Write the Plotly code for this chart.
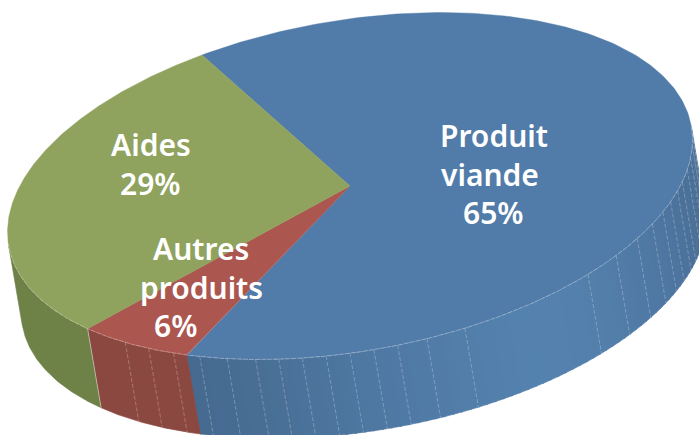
import numpy as np
import plotly.graph_objects as go

# Revenue breakdown, in percent, in clockwise drawing order
categories = ["Produit viande", "Autres produits", "Aides"]
shares = [65, 6, 29]
top_colors = ["#517ba8", "#ab564f", "#8fa25e"]
side_colors = ["#4a7199", "#8b4840", "#6e8248"]

# Projection of the tilted disc onto the page
CENTER = np.array([350.0, 186.0])
AXIS_X = np.array([342.5, -46.0])
AXIS_Y = np.array([0.0, 167.3])
DEPTH = np.array([13.5, 79.0])
START_DEG = -115.6

# Angle at which the rim tangent runs parallel to the extrusion
_turn = np.degrees(np.arctan2(-DEPTH[0] * AXIS_Y[1],
                              AXIS_X[0] * DEPTH[1] + DEPTH[0] * AXIS_X[1]))
SILHOUETTE = (_turn, _turn + 180.0)

# Shading of the blue wall, from the front-left round to the right
blue_wall_deg = [-5, 15, 30, 45, 60, 85, 105, 120]
blue_wall_rgb = [(73, 110, 150), (75, 113, 154), (79, 120, 163), (83, 127, 171),
                 (84, 130, 174), (79, 121, 164), (73, 111, 150), (69, 105, 143)]

# Facet seams on the walls
seam_deg = [-2, 2, 6, 10, 14, 17, 20.6, 24, 28, 33, 39, 46,
            70.4, 77, 82, 86, 90, 94, 98, 102, 106, 111, 116, 121, 126, 131]


def rim(t_deg):
    t = np.radians(np.asarray(t_deg, dtype=float))
    return CENTER[0] + AXIS_X[0] * np.cos(t) + AXIS_Y[0] * np.sin(t), \
        CENTER[1] + AXIS_X[1] * np.cos(t) + AXIS_Y[1] * np.sin(t)


def polygon(x, y, color, name):
    return go.Scatter(x=x, y=y, mode="lines", fill="toself", fillcolor=color,
                      line=dict(color=color, width=0.6), hoverinfo="skip",
                      name=name, showlegend=False)


fig = go.Figure()

edges = START_DEG + np.cumsum([0] + shares) * 3.6
spans = list(zip(edges[:-1], edges[1:]))

# Outer walls, clipped to the side of the rim facing the viewer
for (a, b), name, wall in zip(spans, categories, side_colors):
    for lo, hi in ((a, b), (a - 360, b - 360)):
        lo, hi = max(lo, SILHOUETTE[0]), min(hi, SILHOUETTE[1])
        if hi <= lo:
            continue
        if name == categories[0]:
            cuts = np.arange(lo, hi + 1.5, 1.5)
            cuts = cuts[cuts <= hi]
            cuts = np.r_[cuts, hi]
            for c0, c1 in zip(cuts[:-1], cuts[1:]):
                mid = (c0 + c1) / 2
                rgb = [np.interp(mid, blue_wall_deg, [v[i] for v in blue_wall_rgb]) for i in range(3)]
                color = "rgb(%d,%d,%d)" % tuple(round(v) for v in rgb)
                ts = np.linspace(c0, min(c1 + 0.3, hi), 4)
                xs, ys = rim(ts)
                fig.add_trace(polygon(np.r_[xs, xs[::-1] + DEPTH[0]], np.r_[ys, ys[::-1] + DEPTH[1]], color, name))
        else:
            ts = np.linspace(lo, hi, 80)
            xs, ys = rim(ts)
            fig.add_trace(polygon(np.r_[xs, xs[::-1] + DEPTH[0]], np.r_[ys, ys[::-1] + DEPTH[1]], wall, name))

# Pale dashed seams between wall facets
for t in seam_deg:
    x0, y0 = rim(t)
    fig.add_trace(go.Scatter(x=[x0, x0 + DEPTH[0]], y=[y0, y0 + DEPTH[1]], mode="lines",
                             line=dict(color="rgba(255,255,255,0.32)", width=0.8, dash="4px,2px"),
                             hoverinfo="skip", showlegend=False))

# Seam where the red and green walls meet
x0, y0 = rim(edges[2])
fig.add_trace(go.Scatter(x=[x0, x0 + DEPTH[0]], y=[y0, y0 + DEPTH[1]], mode="lines",
                         line=dict(color="rgba(255,255,255,0.55)", width=0.8),
                         hoverinfo="skip", showlegend=False))

# Top face slices
for (a, b), name, top, share in zip(spans, categories, top_colors, shares):
    ts = np.linspace(a, b, 240)
    xs, ys = rim(ts)
    fig.add_trace(go.Scatter(x=np.r_[CENTER[0], xs, CENTER[0]], y=np.r_[CENTER[1], ys, CENTER[1]],
                             mode="lines", fill="toself", fillcolor=top, line=dict(color=top, width=0.4),
                             name=name, showlegend=False,
                             hovertemplate="%s: %d%%<extra></extra>" % (name, share)))

# Light dashed highlight along the front rim
ts = np.linspace(SILHOUETTE[0], SILHOUETTE[1], 300)
xs, ys = rim(ts)
fig.add_trace(go.Scatter(x=xs, y=ys, mode="lines",
                         line=dict(color="rgba(255,255,255,0.4)", width=0.8, dash="5px,1px"),
                         hoverinfo="skip", showlegend=False))

# Slice labels, one line at a time
labels = [
    ("Produit", 494, 135.5), ("viande", 490, 174), (f"{shares[0]}%", 493, 212.5),
    ("Aides", 151, 144.5), (f"{shares[2]}%", 150, 183),
    ("Autres", 201, 248.5), ("produits", 201, 287), (f"{shares[1]}%", 175, 325.5),
]
for text, x, y in labels:
    fig.add_annotation(x=x, y=y, text=text, showarrow=False, xanchor="center", yanchor="middle",
                       font=dict(family="Noto Sans", size=30, color="white", weight=600))

fig.update_layout(
    width=699, height=435, margin=dict(l=0, r=0, t=0, b=0),
    paper_bgcolor="white", plot_bgcolor="white", showlegend=False,
    xaxis=dict(range=[0, 699], visible=False, fixedrange=True),
    yaxis=dict(range=[435, 0], visible=False, fixedrange=True),
)
fig.write_html("out.html", config=dict(displayModeBar=False))
